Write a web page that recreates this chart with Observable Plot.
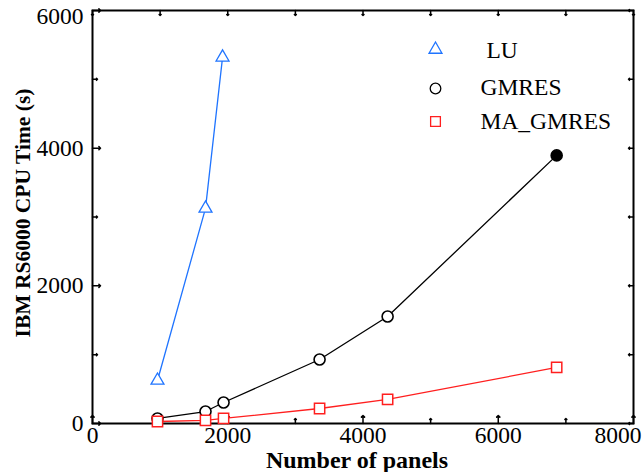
<!DOCTYPE html>
<html><head>
<meta charset="utf-8">
<script src="https://cdn.jsdelivr.net/npm/d3@7"></script>
<script src="https://cdn.jsdelivr.net/npm/@observablehq/plot@0.6"></script>
<style>body{margin:0;background:#fff}</style>
</head><body><div id="chart"></div>
<script>
const panelsLU = [961, 1671, 1923];
const timeLU = [625, 3125, 5320];
const panelsGM = [961, 1671, 1938, 3358, 4364, 6864];
const timeGM = [73, 174, 305, 930, 1555, 3895];
const panelsMA = [961, 1671, 1938, 3358, 4364, 6864];
const timeMA = [29, 44, 73, 218, 349, 814];
const xTicks = [0, 2000, 4000, 6000, 8000];
const xMinor = [1000, 3000, 5000, 7000];
const yTicks = [0, 2000, 4000, 6000];
const yMinor = [1000, 3000, 5000];
const seriesNames = [" LU", "GMRES", "MA_GMRES"];
const xTitle = "Number of panels";
const yTitle = "IBM RS6000 CPU Time (s)";

const BLUE = "#1f74ff", RED = "#ff1f1f", BLACK = "#000";
const FONT = "'Liberation Serif', 'Times New Roman', serif";
const idx = a => d3.range(a.length);
const lastX = xTicks[xTicks.length - 1];
const lastY = yTicks[yTicks.length - 1];

const chart = Plot.plot({
  width: 642, height: 472,
  marginLeft: 92, marginRight: 9, marginTop: 10, marginBottom: 49,
  style: {fontFamily: FONT, fontSize: "23px", background: "#fff", color: "#000", overflow: "visible"},
  x: {domain: [0, 8000]},
  y: {domain: [0, 6000]},
  marks: [
    // inward ticks
    Plot.vector(xTicks, {x: d => d, frameAnchor: "bottom", anchor: "start", length: 8, rotate: 0, stroke: BLACK, strokeWidth: 1.5}),
    Plot.vector(xMinor, {x: d => d, frameAnchor: "bottom", anchor: "start", length: 5, rotate: 0, stroke: BLACK, strokeWidth: 1.5}),
    Plot.vector(xTicks.concat(xMinor), {x: d => d, frameAnchor: "top", anchor: "start", length: 5, rotate: 180, stroke: BLACK, strokeWidth: 1.5}),
    Plot.vector(yTicks, {y: d => d, frameAnchor: "left", anchor: "start", length: 8, rotate: 90, stroke: BLACK, strokeWidth: 1.5}),
    Plot.vector(yMinor, {y: d => d, frameAnchor: "left", anchor: "start", length: 5, rotate: 90, stroke: BLACK, strokeWidth: 1.5}),
    Plot.vector(yTicks.concat(yMinor), {y: d => d, frameAnchor: "right", anchor: "start", length: 5, rotate: -90, stroke: BLACK, strokeWidth: 1.5}),
    Plot.axisX(xTicks.filter(d => d !== lastX), {tickSize: 0, tickPadding: 3, label: null, fontSize: 23.5, fontFamily: FONT, tickFormat: d => String(d)}),
    Plot.axisX([lastX], {tickSize: 0, tickPadding: 3, label: null, fontSize: 23.5, fontFamily: FONT, textAnchor: "end", dx: 8, tickFormat: d => String(d)}),
    Plot.axisY(yTicks.filter(d => d !== lastY), {tickSize: 0, tickPadding: 9, label: null, fontSize: 23.5, fontFamily: FONT, tickFormat: d => String(d)}),
    Plot.axisY([lastY], {tickSize: 0, tickPadding: 9, label: null, fontSize: 23.5, fontFamily: FONT, dy: 6, tickFormat: d => String(d)}),
    Plot.frame({stroke: BLACK, strokeWidth: 2}),
    // axis titles
    Plot.text([xTitle], {frameAnchor: "bottom", dx: -6, dy: 37, lineAnchor: "middle", text: d => d, fontWeight: "bold", fontSize: 24, fontFamily: FONT}),
    Plot.text([yTitle], {frameAnchor: "left", dx: -69, dy: -4, rotate: -90, textAnchor: "middle", lineAnchor: "middle", text: d => d, fontWeight: "bold", fontSize: 21.5, fontFamily: FONT}),
    // series
    Plot.line(idx(panelsLU), {x: i => panelsLU[i], y: i => timeLU[i], stroke: BLUE, strokeWidth: 1.3}),
    Plot.line(idx(panelsGM), {x: i => panelsGM[i], y: i => timeGM[i], stroke: BLACK, strokeWidth: 1.3}),
    Plot.line(idx(panelsMA), {x: i => panelsMA[i], y: i => timeMA[i], stroke: RED, strokeWidth: 1.3}),
    Plot.dot(idx(panelsLU), {x: i => panelsLU[i], y: i => timeLU[i], symbol: "triangle", r: 4.8, stroke: BLUE, fill: "white", strokeWidth: 1.3}),
    Plot.dot(idx(panelsGM), {x: i => panelsGM[i], y: i => timeGM[i], symbol: "circle", r: 5.5, stroke: BLACK, fill: i => i === panelsGM.length - 1 ? "black" : "white", strokeWidth: 1.6}),
    Plot.dot(idx(panelsMA), {x: i => panelsMA[i], y: i => timeMA[i], symbol: "square", r: 5.8, stroke: RED, fill: "white", strokeWidth: 1.5}),
    // legend
    Plot.dot([0], {frameAnchor: "top-right", dx: -198, dy: 39, symbol: "triangle", r: 4.8, stroke: BLUE, fill: "white", strokeWidth: 1.3}),
    Plot.dot([0], {frameAnchor: "top-right", dx: -198, dy: 78, symbol: "circle", r: 5.3, stroke: BLACK, fill: "white", strokeWidth: 1.3}),
    Plot.dot([0], {frameAnchor: "top-right", dx: -198, dy: 111, symbol: "square", r: 5.5, stroke: RED, fill: "white", strokeWidth: 1.3}),
    Plot.text([seriesNames[0]], {frameAnchor: "top-right", dx: -153, dy: 40, text: d => d, textAnchor: "start", lineAnchor: "middle", fontSize: 23.5, fontFamily: FONT}),
    Plot.text([seriesNames[1]], {frameAnchor: "top-right", dx: -153, dy: 77, text: d => d, textAnchor: "start", lineAnchor: "middle", fontSize: 23.5, fontFamily: FONT}),
    Plot.text([seriesNames[2]], {frameAnchor: "top-right", dx: -153, dy: 111, text: d => d, textAnchor: "start", lineAnchor: "middle", fontSize: 23.5, fontFamily: FONT})
  ]
});
document.getElementById("chart").appendChild(chart);
</script>
</body></html>
